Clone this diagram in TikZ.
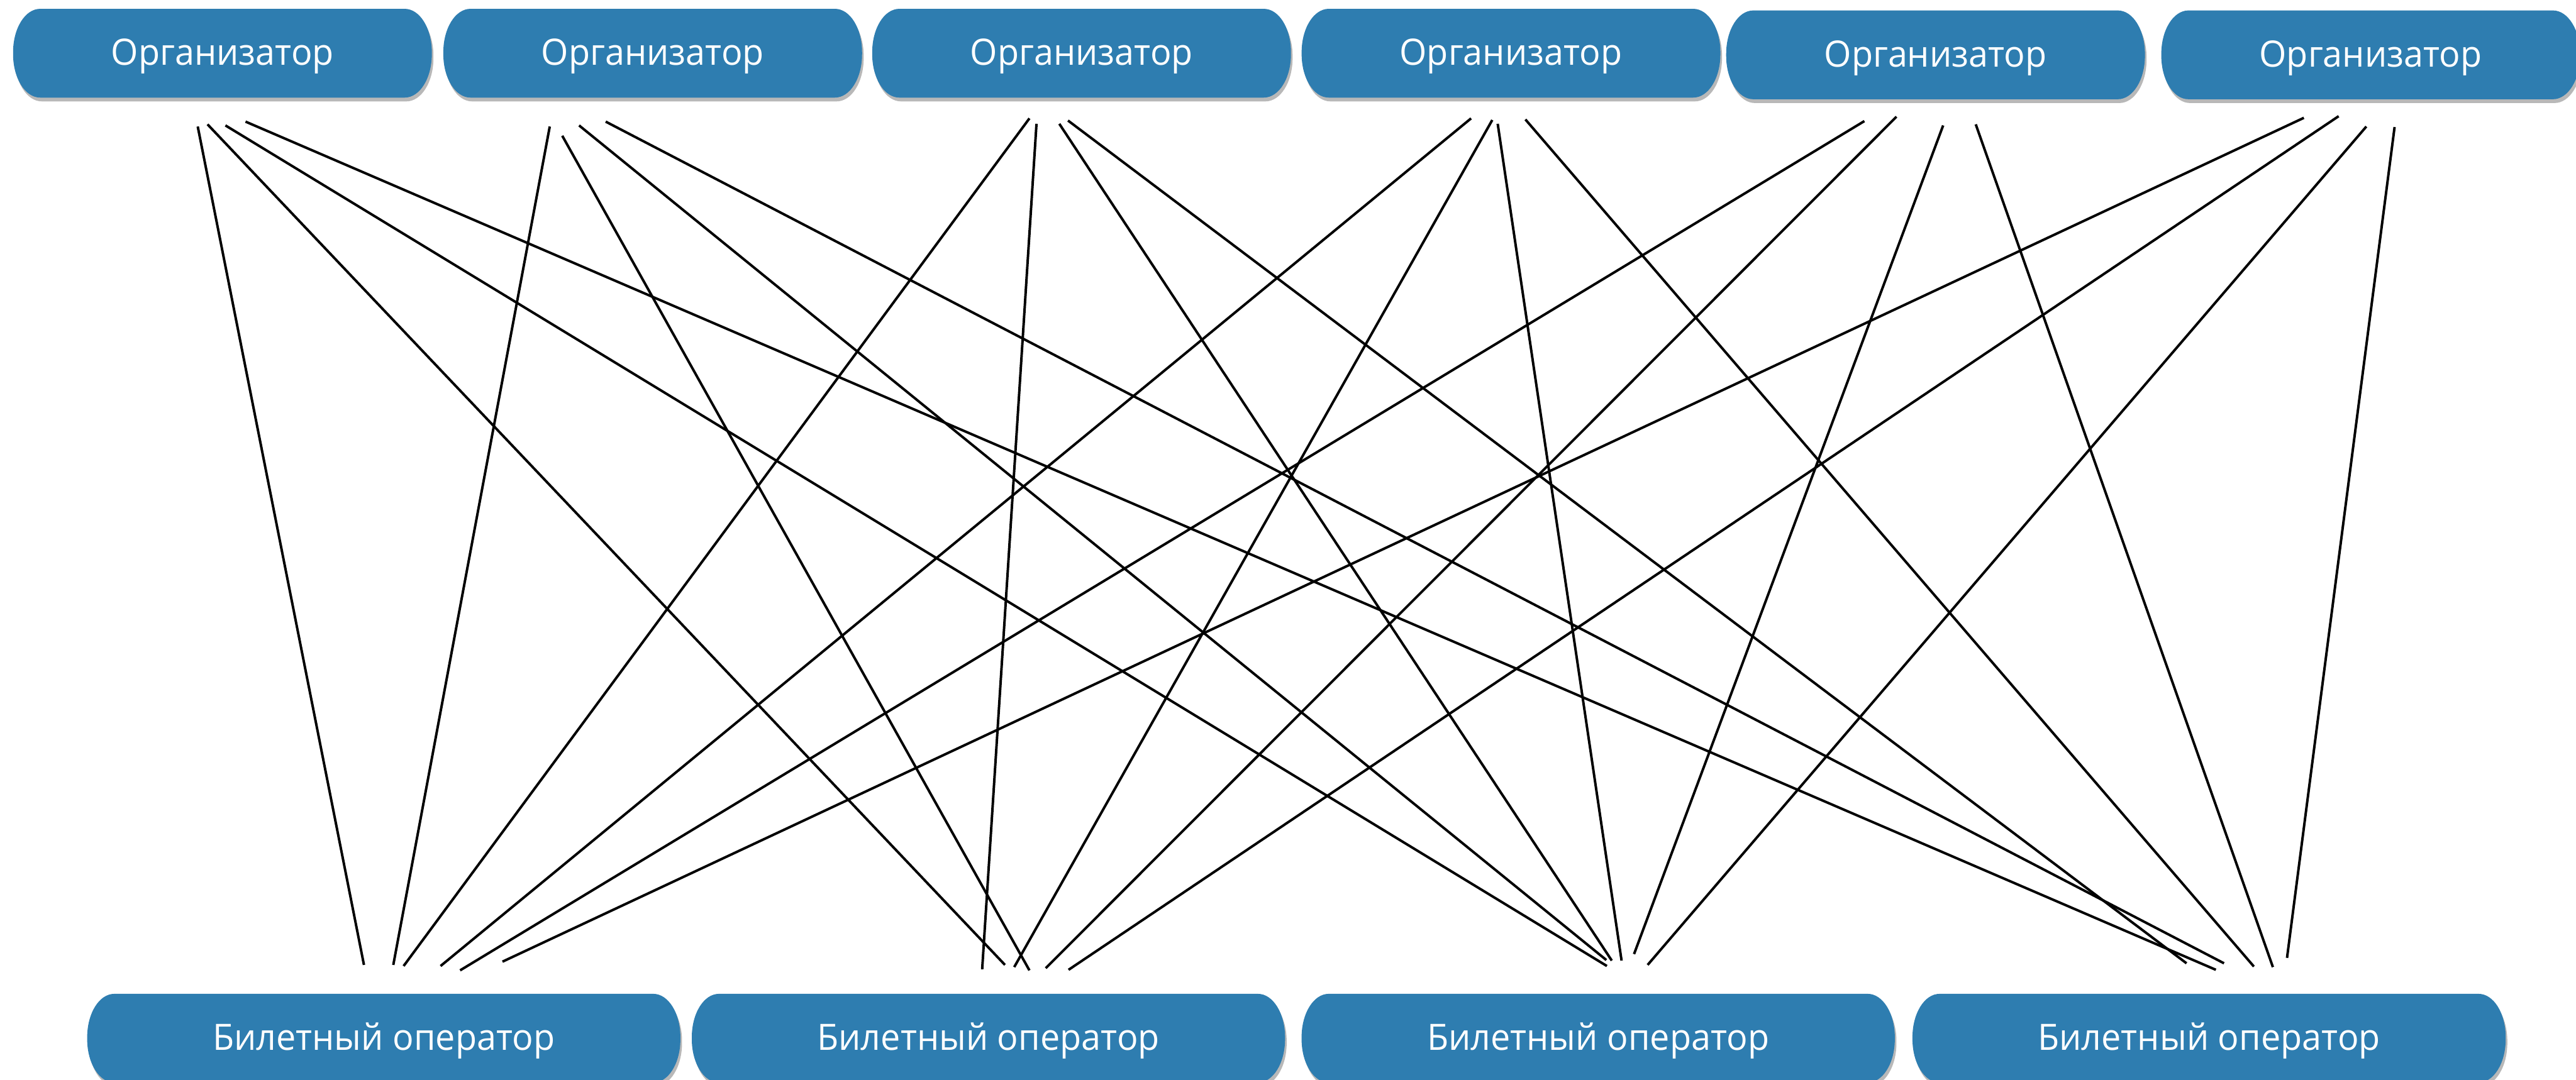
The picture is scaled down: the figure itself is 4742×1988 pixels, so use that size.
\documentclass[tikz,border=0pt]{standalone}
\usepackage{fontspec}
\setmainfont[FakeStretch=0.965]{Open Sans}
\usetikzlibrary{calc}
\definecolor{boxblue}{RGB}{46,125,176}
\pgfdeclarelayer{bg}
\pgfsetlayers{bg,main}
\tikzset{
  conn/.style={line width=1.3pt, black},
  lbl/.style={text=white, inner sep=0pt, font=\fontsize{19pt}{22pt}\selectfont,
    text height=1.48em, text depth=0.24em, minimum height=1.62cm},
  orgbox/.style={lbl, minimum width=7.69cm},
  opbox/.style={lbl, minimum width=10.9cm},
  pillfill/.style={fill=boxblue},
  pillshadow/.style={fill=black, opacity=0.28},
}
\newcommand\pillat[4]{% node, dx, dy, style
  \fill[#4] ($(#1.north west)+(50+#2,#3)$) -- ($(#1.north east)+(-50+#2,#3)$)
    .. controls ($(#1.north east)+(-22+#2,#3)$) and ($(#1.north east)+(#2,36+#3)$) .. ($(#1.north east)+(#2,80+#3)$)
    -- ($(#1.south east)+(#2,-80+#3)$)
    .. controls ($(#1.south east)+(#2,-36+#3)$) and ($(#1.south east)+(-22+#2,#3)$) .. ($(#1.south east)+(-50+#2,#3)$)
    -- ($(#1.south west)+(50+#2,#3)$)
    .. controls ($(#1.south west)+(22+#2,#3)$) and ($(#1.south west)+(#2,-36+#3)$) .. ($(#1.south west)+(#2,-80+#3)$)
    -- ($(#1.north west)+(#2,80+#3)$)
    .. controls ($(#1.north west)+(#2,36+#3)$) and ($(#1.north west)+(22+#2,#3)$) .. cycle;}
\begin{document}
\begin{tikzpicture}[x=0.01cm, y=-0.01cm]
\useasboundingbox (0,0) rectangle (4742,1988);
\clip (0,0) rectangle (4742,1988);
% organizers
\node[orgbox] (o1) at (409.5,98) {Организатор};
\node[orgbox] (o2) at (1201.5,98) {Организатор};
\node[orgbox] (o3) at (1991,98) {Организатор};
\node[orgbox] (o4) at (2781.5,98) {Организатор};
\node[orgbox] (o5) at (3563,101) {Организатор};
\node[orgbox] (o6) at (4364,101) {Организатор};
% operators
\node[opbox] (b1) at (706.5,1912) {Билетный оператор};
\node[opbox] (b2) at (1819.5,1912) {Билетный оператор};
\node[opbox] (b3) at (2942,1912) {Билетный оператор};
\node[opbox] (b4) at (4066.5,1912) {Билетный оператор};
\begin{pgfonlayer}{bg}
  \foreach \n in {o1,o2,o3,o4,o5,o6,b1,b2,b3,b4}{\pillat{\n}{3}{7}{pillshadow}}
  \foreach \n in {o1,o2,o3,o4,o5,o6,b1,b2,b3,b4}{\pillat{\n}{0}{0}{pillfill}}
\end{pgfonlayer}
% connector ends at the organizers
\coordinate (t1a) at (364,233);  \coordinate (t1b) at (382,229);  \coordinate (t1c) at (415,231);  \coordinate (t1d) at (452,224);
\coordinate (t2a) at (1012,233); \coordinate (t2b) at (1035,250); \coordinate (t2c) at (1066,231); \coordinate (t2d) at (1115,224);
\coordinate (t3a) at (1895,218); \coordinate (t3b) at (1908,228); \coordinate (t3c) at (1950,228); \coordinate (t3d) at (1966,222);
\coordinate (t4a) at (2708,218); \coordinate (t4b) at (2747,221); \coordinate (t4c) at (2757,228); \coordinate (t4d) at (2808,220);
\coordinate (t5a) at (3432,223); \coordinate (t5b) at (3491,215); \coordinate (t5c) at (3577,231); \coordinate (t5d) at (3637,229);
\coordinate (t6a) at (4241,217); \coordinate (t6b) at (4305,214); \coordinate (t6c) at (4356,233); \coordinate (t6d) at (4408,234);
% connector ends at the operators
\coordinate (u1a) at (670,1777);  \coordinate (u2a) at (1850,1777); \coordinate (u3a) at (2958,1779); \coordinate (u4a) at (4079,1786);
\coordinate (u1b) at (724,1777);  \coordinate (u2b) at (1895,1787); \coordinate (u3b) at (2957,1768); \coordinate (u4b) at (4094,1774);
\coordinate (u1c) at (743,1779);  \coordinate (u2c) at (1808,1785); \coordinate (u3c) at (2967,1769); \coordinate (u4c) at (4025,1774);
\coordinate (u1d) at (811,1779);  \coordinate (u2d) at (1867,1781); \coordinate (u3d) at (2985,1769); \coordinate (u4d) at (4149,1780);
\coordinate (u1e) at (847,1787);  \coordinate (u2e) at (1925,1783); \coordinate (u3e) at (3008,1757); \coordinate (u4e) at (4184,1781);
\coordinate (u1f) at (925,1771);  \coordinate (u2f) at (1967,1786); \coordinate (u3f) at (3033,1777); \coordinate (u4f) at (4210,1764);
% connectors
\draw[conn] (t1a) -- (u1a); \draw[conn] (t1b) -- (u2a); \draw[conn] (t1c) -- (u3a); \draw[conn] (t1d) -- (u4a);
\draw[conn] (t2a) -- (u1b); \draw[conn] (t2b) -- (u2b); \draw[conn] (t2c) -- (u3b); \draw[conn] (t2d) -- (u4b);
\draw[conn] (t3a) -- (u1c); \draw[conn] (t3b) -- (u2c); \draw[conn] (t3c) -- (u3c); \draw[conn] (t3d) -- (u4c);
\draw[conn] (t4a) -- (u1d); \draw[conn] (t4b) -- (u2d); \draw[conn] (t4c) -- (u3d); \draw[conn] (t4d) -- (u4d);
\draw[conn] (t5a) -- (u1e); \draw[conn] (t5b) -- (u2e); \draw[conn] (t5c) -- (u3e); \draw[conn] (t5d) -- (u4e);
\draw[conn] (t6a) -- (u1f); \draw[conn] (t6b) -- (u2f); \draw[conn] (t6c) -- (u3f); \draw[conn] (t6d) -- (u4f);
\end{tikzpicture}
\end{document}
